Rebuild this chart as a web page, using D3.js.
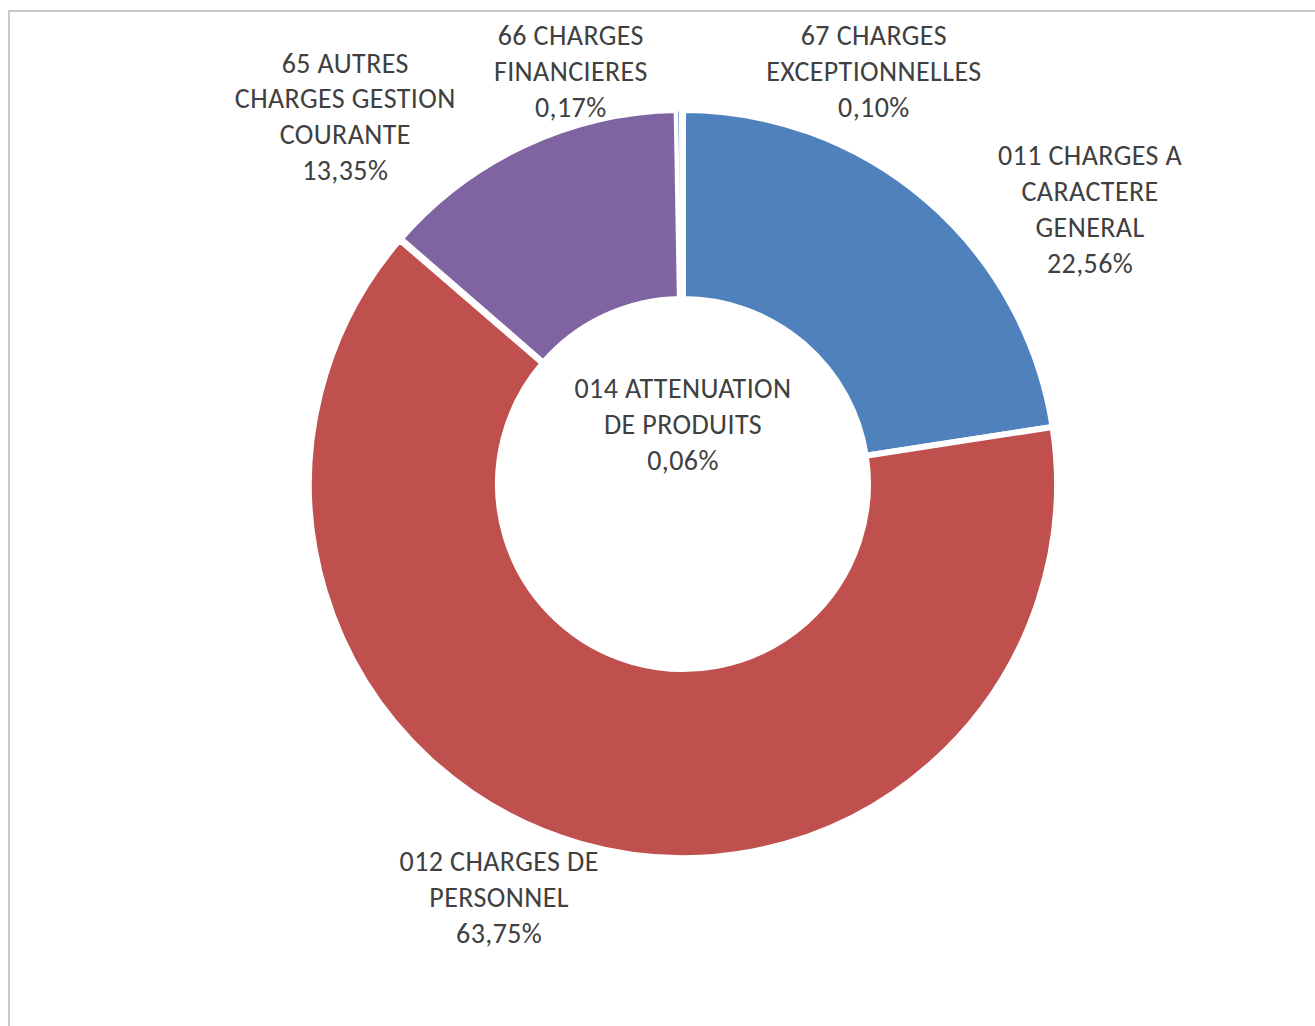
<!DOCTYPE html>
<html>
<head>
<meta charset="utf-8">
<script src="https://cdn.jsdelivr.net/npm/d3@7"></script>
<style>
  body { margin: 0; background: #fff; }
  text { font-family: Carlito, Lato, "Open Sans", sans-serif; fill: #404040; }
</style>
</head>
<body>
<script>
// chart data
var categories = ["011 CHARGES A CARACTERE GENERAL", "012 CHARGES DE PERSONNEL",
                  "014 ATTENUATION DE PRODUITS", "65 AUTRES CHARGES GESTION COURANTE",
                  "66 CHARGES FINANCIERES", "67 CHARGES EXCEPTIONNELLES"];
var shares = [22.56, 63.75, 0.06, 13.35, 0.17, 0.10];
var labelLines = [
  ["011 CHARGES A", "CARACTERE", "GENERAL"],
  ["012 CHARGES DE", "PERSONNEL"],
  ["014 ATTENUATION", "DE PRODUITS"],
  ["65 AUTRES", "CHARGES GESTION", "COURANTE"],
  ["66 CHARGES", "FINANCIERES"],
  ["67 CHARGES", "EXCEPTIONNELLES"]
];

var colors = ["#4F81BD", "#C0504D", "#9BBB59", "#8064A2", "#6A9BD1", "#F79646"];

// label placement: polar (degrees clockwise from top, radius px)
var labelPolar = [[56, 491], [204, 452], [0, 60], [317.4, 499], [344.8, 428], [24.8, 455]];

var width = 1315, height = 1026;
var cx = 683, cy = 484;
var outerR = 374, innerR = 185;

var fmt = function(v){ return d3.format(".2f")(v).replace(".", ",") + "%"; };

var svg = d3.select("body").append("svg")
    .attr("width", width)
    .attr("height", height);

svg.append("rect")
    .attr("x", 9).attr("y", 11)
    .attr("width", width + 20).attr("height", height + 20)
    .attr("fill", "none")
    .attr("stroke", "#c8c8c8")
    .attr("stroke-width", 2);

var data = categories.map(function(c, i){
  return {name: c, value: shares[i], lines: labelLines[i].concat([fmt(shares[i])]), color: colors[i], pos: labelPolar[i]};
});

var pie = d3.pie().sort(null).value(function(d){ return d.value; });
var arc = d3.arc().innerRadius(innerR).outerRadius(outerR);

var g = svg.append("g").attr("transform", "translate(" + cx + "," + cy + ")");

g.selectAll("path.slice")
  .data(pie(data))
  .enter().append("path")
    .attr("class", "slice")
    .attr("d", arc)
    .attr("fill", function(d){ return d.data.color; })
    .attr("stroke", "#fff")
    .attr("stroke-width", function(d){ return d.data.value < 1 ? 3 : 6; })
    .attr("stroke-linejoin", "round");

var lineH = 36;
var labels = g.selectAll("text.lbl")
  .data(data)
  .enter().append("text")
    .attr("class", "lbl")
    .attr("text-anchor", "middle")
    .attr("font-size", 28)
    .attr("letter-spacing", 0.4)
    .attr("transform", function(d){
      var a = d.pos[0] * Math.PI / 180;
      var x = d.pos[1] * Math.sin(a), y = -d.pos[1] * Math.cos(a);
      var top = y - (d.lines.length - 1) * lineH / 2;
      return "translate(" + x + "," + top + ")";
    });

labels.selectAll("tspan")
  .data(function(d){ return d.lines; })
  .enter().append("tspan")
    .attr("x", 0)
    .attr("dy", function(d, i){ return i === 0 ? "0.35em" : lineH; })
    .text(function(d){ return d; });
</script>
</body>
</html>
